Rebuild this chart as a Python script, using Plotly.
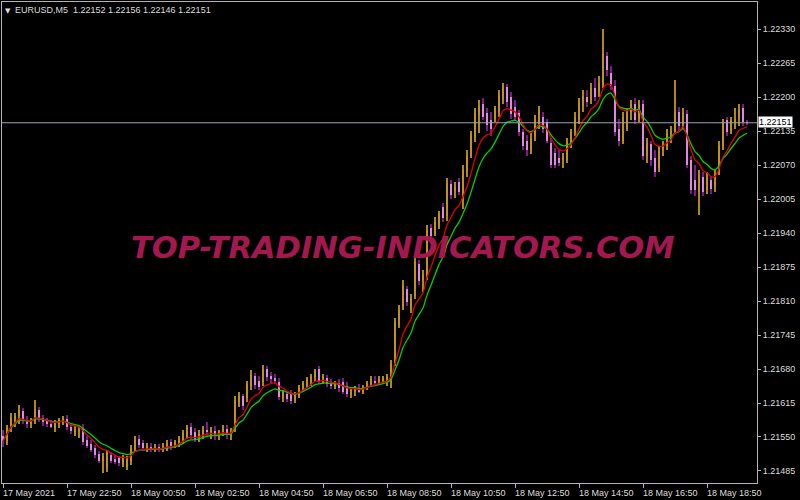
import plotly.graph_objects as go
import pandas as pd

# ---- data (EURUSD M5) ----
opens = [1.21551,1.21542,1.21567,1.21582,1.21590,1.21599,1.21582,1.21574,1.21580,1.21601,
         1.21586,1.21580,1.21574,1.21567,1.21574,1.21580,1.21584,1.21569,1.21557,1.21559,
         1.21567,1.21544,1.21536,1.21528,1.21517,1.21504,1.21490,1.21515,1.21507,1.21509,
         1.21498,1.21492,1.21502,1.21525,1.21546,1.21538,1.21526,1.21530,1.21525,1.21530,
         1.21526,1.21526,1.21540,1.21532,1.21534,1.21542,1.21549,1.21569,1.21559,1.21549,
         1.21555,1.21563,1.21559,1.21561,1.21553,1.21557,1.21565,1.21553,1.21567,1.21616,
         1.21628,1.21624,1.21647,1.21666,1.21658,1.21655,1.21680,1.21666,1.21662,1.21655,
         1.21624,1.21632,1.21634,1.21620,1.21628,1.21641,1.21647,1.21655,1.21662,1.21680,
         1.21660,1.21662,1.21653,1.21647,1.21653,1.21655,1.21647,1.21630,1.21636,1.21643,
         1.21637,1.21643,1.21651,1.21658,1.21657,1.21658,1.21658,1.21662,1.21689,1.21765,
         1.21798,1.21834,1.21796,1.21819,1.21880,1.21850,1.21857,1.21949,1.21938,1.21953,
         1.21989,1.21972,1.22033,1.22020,1.22037,1.22012,1.22056,1.22087,1.22121,1.22165,
         1.22186,1.22169,1.22156,1.22159,1.22171,1.22194,1.22219,1.22201,1.22182,1.22169,
         1.22133,1.22117,1.22098,1.22125,1.22146,1.22163,1.22152,1.22113,1.22094,1.22083,
         1.22079,1.22079,1.22106,1.22133,1.22156,1.22184,1.22200,1.22194,1.22217,1.22209,
         1.22224,1.22278,1.22247,1.22221,1.22140,1.22117,1.22140,1.22171,1.22186,1.22159,
         1.22186,1.22087,1.22110,1.22083,1.22064,1.22098,1.22106,1.22129,1.22136,1.22171,
         1.22148,1.22167,1.22079,1.22041,1.22018,1.22048,1.22022,1.22041,1.22029,1.22060,
         1.22106,1.22156,1.22136,1.22152,1.22159,1.22179,1.22152]
highs = [1.21563,1.21572,1.21595,1.21595,1.21611,1.21605,1.21590,1.21586,1.21620,1.21607,
         1.21593,1.21586,1.21582,1.21582,1.21586,1.21590,1.21592,1.21574,1.21571,1.21569,
         1.21574,1.21551,1.21544,1.21534,1.21523,1.21519,1.21525,1.21521,1.21515,1.21513,
         1.21515,1.21513,1.21534,1.21551,1.21553,1.21544,1.21538,1.21538,1.21536,1.21536,
         1.21538,1.21544,1.21546,1.21544,1.21551,1.21563,1.21572,1.21576,1.21567,1.21563,
         1.21571,1.21578,1.21569,1.21571,1.21563,1.21572,1.21572,1.21567,1.21628,1.21636,
         1.21632,1.21658,1.21678,1.21672,1.21666,1.21687,1.21685,1.21674,1.21670,1.21662,
         1.21639,1.21637,1.21639,1.21636,1.21649,1.21658,1.21664,1.21670,1.21681,1.21685,
         1.21670,1.21668,1.21660,1.21658,1.21660,1.21662,1.21655,1.21645,1.21647,1.21651,
         1.21649,1.21658,1.21666,1.21666,1.21666,1.21666,1.21670,1.21697,1.21777,1.21802,
         1.21850,1.21838,1.21823,1.21892,1.21888,1.21869,1.21955,1.21957,1.21970,1.21983,
         1.21997,1.22045,1.22041,1.22037,1.22045,1.22070,1.22098,1.22136,1.22179,1.22194,
         1.22198,1.22179,1.22171,1.22184,1.22213,1.22228,1.22226,1.22209,1.22194,1.22175,
         1.22140,1.22127,1.22131,1.22165,1.22184,1.22171,1.22159,1.22121,1.22102,1.22098,
         1.22094,1.22121,1.22140,1.22171,1.22198,1.22213,1.22213,1.22228,1.22236,1.22240,
         1.22331,1.22286,1.22259,1.22232,1.22159,1.22171,1.22179,1.22194,1.22198,1.22194,
         1.22194,1.22121,1.22117,1.22098,1.22106,1.22117,1.22140,1.22144,1.22232,1.22182,
         1.22179,1.22175,1.22087,1.22070,1.22060,1.22056,1.22056,1.22048,1.22060,1.22117,
         1.22159,1.22163,1.22163,1.22179,1.22186,1.22186,1.22156]
lows = [1.21530,1.21534,1.21559,1.21569,1.21574,1.21574,1.21567,1.21567,1.21574,1.21578,
        1.21571,1.21569,1.21567,1.21559,1.21567,1.21572,1.21563,1.21555,1.21551,1.21549,
        1.21534,1.21528,1.21521,1.21509,1.21500,1.21482,1.21484,1.21500,1.21498,1.21494,
        1.21492,1.21486,1.21496,1.21521,1.21528,1.21525,1.21521,1.21521,1.21521,1.21521,
        1.21521,1.21523,1.21526,1.21528,1.21530,1.21536,1.21546,1.21547,1.21540,1.21540,
        1.21547,1.21551,1.21547,1.21544,1.21544,1.21551,1.21547,1.21544,1.21559,1.21607,
        1.21601,1.21616,1.21639,1.21641,1.21639,1.21647,1.21658,1.21653,1.21651,1.21620,
        1.21616,1.21616,1.21613,1.21615,1.21624,1.21636,1.21643,1.21647,1.21657,1.21651,
        1.21651,1.21645,1.21641,1.21641,1.21637,1.21632,1.21626,1.21624,1.21628,1.21634,
        1.21632,1.21639,1.21645,1.21651,1.21651,1.21653,1.21647,1.21643,1.21685,1.21758,
        1.21792,1.21800,1.21788,1.21813,1.21840,1.21827,1.21850,1.21926,1.21934,1.21947,
        1.21962,1.21964,1.22006,1.22008,1.22012,1.21987,1.22048,1.22083,1.22115,1.22131,
        1.22156,1.22136,1.22125,1.22152,1.22163,1.22186,1.22182,1.22159,1.22156,1.22125,
        1.22098,1.22087,1.22092,1.22117,1.22140,1.22131,1.22112,1.22064,1.22064,1.22068,
        1.22064,1.22075,1.22102,1.22125,1.22148,1.22171,1.22182,1.22186,1.22192,1.22201,
        1.22217,1.22240,1.22213,1.22125,1.22106,1.22110,1.22135,1.22156,1.22148,1.22152,
        1.22079,1.22075,1.22068,1.22048,1.22056,1.22087,1.22098,1.22113,1.22129,1.22136,
        1.22140,1.22064,1.22014,1.22010,1.21974,1.22010,1.22014,1.22014,1.22018,1.22052,
        1.22098,1.22125,1.22129,1.22140,1.22144,1.22144,1.22146]
closes = [1.21542,1.21567,1.21586,1.21590,1.21601,1.21582,1.21574,1.21580,1.21601,1.21586,
          1.21578,1.21574,1.21571,1.21576,1.21582,1.21584,1.21569,1.21561,1.21565,1.21563,
          1.21540,1.21532,1.21526,1.21515,1.21505,1.21513,1.21519,1.21504,1.21504,1.21500,
          1.21509,1.21507,1.21528,1.21544,1.21534,1.21528,1.21532,1.21526,1.21530,1.21525,
          1.21532,1.21538,1.21532,1.21540,1.21546,1.21557,1.21567,1.21553,1.21547,1.21555,
          1.21563,1.21559,1.21563,1.21551,1.21557,1.21565,1.21553,1.21561,1.21620,1.21628,
          1.21609,1.21651,1.21668,1.21649,1.21645,1.21680,1.21664,1.21660,1.21658,1.21626,
          1.21634,1.21622,1.21618,1.21630,1.21643,1.21653,1.21660,1.21666,1.21676,1.21657,
          1.21664,1.21651,1.21647,1.21653,1.21643,1.21637,1.21632,1.21639,1.21641,1.21637,
          1.21643,1.21653,1.21660,1.21655,1.21660,1.21662,1.21664,1.21689,1.21769,1.21792,
          1.21840,1.21808,1.21815,1.21884,1.21848,1.21859,1.21945,1.21934,1.21962,1.21976,
          1.21968,1.22035,1.22012,1.22029,1.22018,1.22060,1.22087,1.22129,1.22169,1.22184,
          1.22163,1.22146,1.22140,1.22179,1.22203,1.22221,1.22190,1.22167,1.22163,1.22133,
          1.22106,1.22098,1.22121,1.22159,1.22175,1.22140,1.22117,1.22071,1.22071,1.22075,
          1.22087,1.22113,1.22133,1.22163,1.22188,1.22203,1.22190,1.22217,1.22201,1.22228,
          1.22282,1.22251,1.22221,1.22133,1.22117,1.22163,1.22169,1.22186,1.22156,1.22186,
          1.22087,1.22113,1.22079,1.22056,1.22098,1.22106,1.22131,1.22136,1.22171,1.22144,
          1.22171,1.22071,1.22022,1.22022,1.22052,1.22018,1.22045,1.22025,1.22048,1.22106,
          1.22152,1.22133,1.22156,1.22159,1.22175,1.22152,1.22151]

tick_bars = [0, 16, 32, 48, 64, 80, 96, 112, 128, 144, 160, 176]
tick_labels = ["17 May 2021", "17 May 22:50", "18 May 00:50", "18 May 02:50",
               "18 May 04:50", "18 May 06:50", "18 May 08:50", "18 May 10:50",
               "18 May 12:50", "18 May 14:50", "18 May 16:50", "18 May 18:50"]
price_ticks = [1.21485, 1.21550, 1.21615, 1.21680, 1.21745, 1.21810, 1.21875,
               1.21940, 1.22005, 1.22070, 1.22135, 1.22200, 1.22265, 1.22330]
symbol = "EURUSD,M5"
fast_period = 7
slow_period = 11

# ---- styles ----
BULL = "#C09412"
BULL_WICK = "#B08A10"
BEAR = "#E088E0"
BEAR_WICK = "#7E1A88"
FG = "#DCDCDC"
FRAME = "#B4B4B4"
FONT = "Liberation Sans"

n = len(closes)
idx = list(range(n))
df = pd.DataFrame({"o": opens, "h": highs, "l": lows, "c": closes})
up = df["c"] >= df["o"]

fig = go.Figure()

# wicks
for mask, col in ((up, BULL_WICK), (~up, BEAR_WICK)):
    sub = df[mask]
    fig.add_trace(go.Bar(x=list(sub.index), y=list(sub["h"] - sub["l"]), base=list(sub["l"]),
                         width=0.28, marker=dict(color=col, line=dict(width=0)),
                         hoverinfo="skip", showlegend=False))
# bodies
for mask, col in ((up, BULL), (~up, BEAR)):
    sub = df[mask]
    lo = sub[["o", "c"]].min(axis=1)
    hgt = (sub["c"] - sub["o"]).abs().clip(lower=0.000012)
    fig.add_trace(go.Bar(x=list(sub.index), y=list(hgt), base=list(lo),
                         width=0.72, marker=dict(color=col, line=dict(width=0)),
                         hoverinfo="skip", showlegend=False))

slow = df["c"].ewm(span=slow_period).mean()
fast = df["c"].ewm(span=fast_period).mean()
fig.add_trace(go.Scatter(x=idx, y=list(slow), mode="lines",
                         line=dict(color="#00D000", width=1.3, shape="spline", smoothing=0.6),
                         showlegend=False))
fig.add_trace(go.Scatter(x=idx, y=list(fast), mode="lines",
                         line=dict(color="#E00000", width=1.3, shape="spline", smoothing=0.6),
                         showlegend=False))

last = closes[-1]
fig.add_shape(type="line", xref="paper", x0=0, x1=1, yref="y", y0=last, y1=last,
              line=dict(color="#9AA6B4", width=1), layer="above")

annotations = []
for b, t in zip(tick_bars, tick_labels):
    annotations.append(dict(x=b, y=0, xref="x", yref="paper", text=t,
                            xanchor="left", yanchor="top", xshift=-2, yshift=-3,
                            showarrow=False,
                            font=dict(family=FONT, size=9, color=FG)))
annotations.append(dict(x=1, y=last, xref="paper", yref="y", text=f"{last:.5f}",
                        xanchor="left", yanchor="middle", xshift=1, yshift=1, showarrow=False,
                        bgcolor="#FFFFFF", borderpad=0,
                        font=dict(family=FONT, size=9, color="#000000")))
annotations.append(dict(x=0, y=1, xref="paper", yref="paper", text="▼",
                        xanchor="left", yanchor="top", xshift=1, yshift=-3, showarrow=False,
                        font=dict(family="DejaVu Sans", size=7, color=FG)))
annotations.append(dict(x=0, y=1, xref="paper", yref="paper",
                        text=f"{symbol}  {opens[-1]:.5f} {highs[-1]:.5f} {lows[-1]:.5f} {closes[-1]:.5f}",
                        xanchor="left", yanchor="top", xshift=11, yshift=-1, showarrow=False,
                        font=dict(family=FONT, size=9, color=FG)))
annotations.append(dict(x=0.531, y=0.49, xref="paper", yref="paper",
                        text="TOP-TRADING-INDICATORS.COM", showarrow=False,
                        xanchor="center", yanchor="middle",
                        font=dict(family="DejaVu Sans", size=30.5, color="#A3194F",
                                  weight="bold", style="italic")))

fig.update_layout(
    width=800, height=500,
    margin=dict(l=2, r=43, t=2, b=17, autoexpand=False),
    paper_bgcolor="#000000", plot_bgcolor="#000000",
    barmode="overlay", bargap=0,
    showlegend=False,
    annotations=annotations,
    xaxis=dict(range=[-0.25, 188.5], showgrid=False, zeroline=False,
               tickvals=tick_bars, ticktext=[""] * len(tick_bars),
               ticks="outside", ticklen=4, tickcolor=FRAME,
               showline=True, linecolor=FRAME, linewidth=1, mirror=True),
    yaxis=dict(range=[1.21462, 1.22382], side="right", showgrid=False, zeroline=False,
               tickvals=price_ticks, tickformat=".5f",
               ticks="outside", ticklen=3, tickcolor=FRAME,
               tickfont=dict(family=FONT, size=9, color=FG),
               showline=True, linecolor=FRAME, linewidth=1, mirror=True),
)

fig.write_html("out.html", config={"displayModeBar": False},
               post_script="document.body.style.margin='0';document.body.style.background='#000';")
